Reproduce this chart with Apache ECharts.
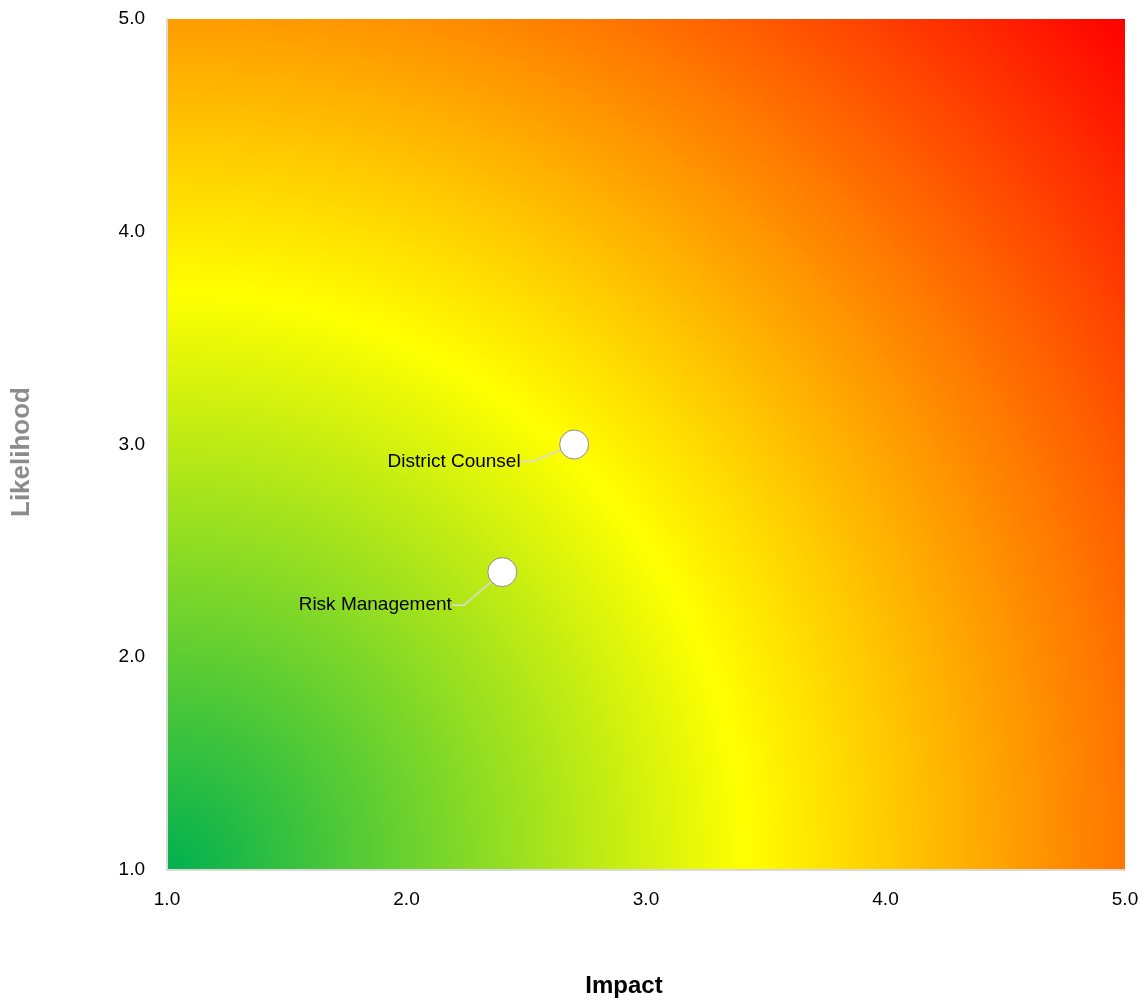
<!DOCTYPE html>
<html>
<head>
<meta charset="utf-8">
<script src="https://cdn.jsdelivr.net/npm/echarts@6/dist/echarts.min.js"></script>
<style>
html,body{margin:0;padding:0;background:#fff;}
#chart{width:1144px;height:1000px;}
</style>
</head>
<body>
<div id="chart"></div>
<script>
// Data
const pointNames = ['District Counsel', 'Risk Management'];
const impactValues = [2.7, 2.4];
const likelihoodValues = [3.0, 2.4];
const axisMin = 1, axisMax = 5, axisStep = 1;

const FONT = '"Liberation Sans", Arial, sans-serif';
const labelOffsets = [[-24.5, 17], [-21.5, 33]];

const chart = echarts.init(document.getElementById('chart'));
chart.setOption({
  animation: false,
  grid: {
    left: 167, right: 19, top: 19, bottom: 130,
    containLabel: false,
    outerBoundsMode: 'none',
    show: true,
    borderWidth: 0,
    backgroundColor: {
      type: 'radial', x: 0, y: 1, r: 1.505,
      colorStops: [
        { offset: 0, color: '#00b050' },
        { offset: 0.452, color: '#ffff00' },
        { offset: 1, color: '#ff0000' }
      ]
    }
  },
  xAxis: {
    type: 'value', min: axisMin, max: axisMax, interval: axisStep,
    name: 'Impact', nameLocation: 'middle', nameGap: 104,
    nameTextStyle: { fontFamily: FONT, fontSize: 24, fontWeight: 'bold', color: '#000', padding: [0, 44, 0, 0] },
    axisLine: { show: true, lineStyle: { color: '#d9d9d9', width: 2 } },
    axisTick: { show: false },
    splitLine: { show: false },
    axisLabel: { fontFamily: FONT, fontSize: 19, color: '#000', margin: 20, formatter: v => v.toFixed(1) }
  },
  yAxis: {
    type: 'value', min: axisMin, max: axisMax, interval: axisStep,
    name: 'Likelihood', nameLocation: 'middle', nameGap: 132, nameRotate: 90,
    nameTextStyle: { fontFamily: FONT, fontSize: 26, fontWeight: 'bold', color: '#8c8c8c', padding: [0, 15, 0, 0] },
    axisLine: { show: true, lineStyle: { color: '#d9d9d9', width: 2 } },
    axisTick: { show: false },
    splitLine: { show: false },
    axisLabel: { fontFamily: FONT, fontSize: 19, color: '#000', margin: 22, formatter: v => v.toFixed(1) }
  },
  series: [{
    type: 'scatter',
    data: pointNames.map((n, i) => ({ name: n, value: [impactValues[i], likelihoodValues[i]] })),
    symbol: 'circle',
    symbolSize: 29,
    itemStyle: { color: '#ffffff', borderColor: '#8c8c8c', borderWidth: 1, opacity: 1 },
    label: {
      show: true, position: 'left', distance: 5,
      formatter: p => p.name,
      padding: [0, 9, 0, 0],
      fontFamily: FONT, fontSize: 19, color: '#000'
    },
    labelLine: { show: true, length2: 12, minTurnAngle: 0, lineStyle: { color: '#d9d9d9', width: 1.5 } },
    labelLayout: p => ({ dx: labelOffsets[p.dataIndex][0], dy: labelOffsets[p.dataIndex][1] })
  }]
});
</script>
</body>
</html>
